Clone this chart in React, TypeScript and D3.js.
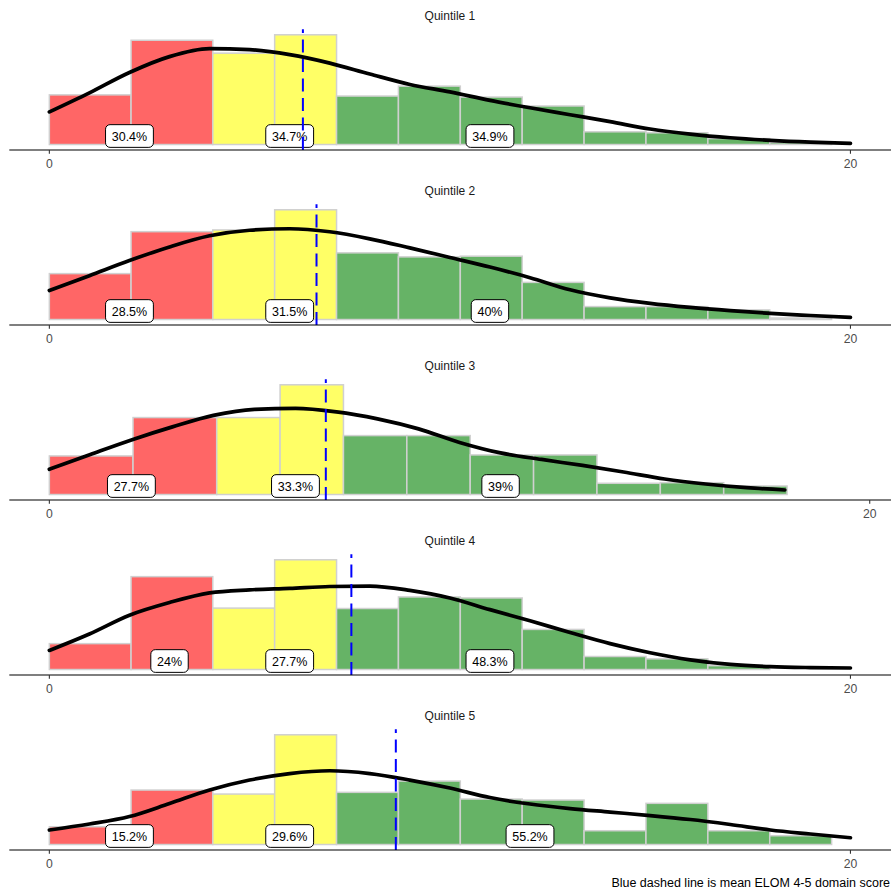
import React from 'react';
import * as d3 from 'd3';

// ---------------- DATA ----------------
const quintiles = ['Quintile 1', 'Quintile 2', 'Quintile 3', 'Quintile 4', 'Quintile 5'];

// histogram bin edges (ELOM 4-5 domain score)
const binEdges = [0, 2.04, 4.08, 5.625, 7.17, 8.715, 10.26, 11.805, 13.35, 14.895, 16.44, 17.985, 19.53];
const binGroup = ['red', 'red', 'yellow', 'yellow', 'green', 'green', 'green', 'green', 'green', 'green', 'green', 'green'];

// bar densities per quintile
const barsQ1 = [0.05, 0.105, 0.092, 0.1105, 0.0488, 0.0588, 0.0478, 0.0388, 0.0128, 0.0118, 0.006, 0.002];
const barsQ2 = [0.0455, 0.0871, 0.0888, 0.1088, 0.0661, 0.0621, 0.0628, 0.0368, 0.0128, 0.0128, 0.0095, 0.0015];
const barsQ3 = [0.0385, 0.0768, 0.0768, 0.1095, 0.0588, 0.0588, 0.0395, 0.0395, 0.0112, 0.0118, 0.0085, 0];
const barsQ4 = [0.0255, 0.0915, 0.0605, 0.1081, 0.0601, 0.0715, 0.0705, 0.0395, 0.0128, 0.0105, 0.0038, 0];
const barsQ5 = [0.0178, 0.0545, 0.0505, 0.1098, 0.0522, 0.0635, 0.0455, 0.0445, 0.0138, 0.0412, 0.0138, 0.0088];

// density curve (x positions and densities)
const curveX = [0, 1, 2, 3, 4, 5, 6, 7, 8, 9, 10, 11, 12, 13, 14, 15, 16, 17, 18, 19, 20];
const curveXQ3 = [0, 1, 2, 3, 4, 5, 6, 7, 8, 9, 10, 11, 12, 13, 14, 15, 16, 17, 17.93];
const densQ1 = [0.0328, 0.052, 0.0725, 0.0885, 0.0965, 0.0955, 0.0905, 0.082, 0.071, 0.0605, 0.053, 0.0445, 0.037, 0.030, 0.023, 0.0156, 0.0105, 0.0068, 0.0042, 0.0024, 0.0012];
const densQ2 = [0.0288, 0.0435, 0.0585, 0.072, 0.083, 0.0885, 0.090, 0.087, 0.080, 0.071, 0.0615, 0.052, 0.0415, 0.0295, 0.0215, 0.016, 0.012, 0.0088, 0.0061, 0.004, 0.0021];
const densQ3 = [0.0252, 0.040, 0.0545, 0.0675, 0.079, 0.085, 0.086, 0.0825, 0.0755, 0.0655, 0.052, 0.0415, 0.035, 0.029, 0.0225, 0.0155, 0.0105, 0.0068, 0.0045];
const densQ4 = [0.0188, 0.035, 0.0535, 0.066, 0.0755, 0.0785, 0.080, 0.0818, 0.0822, 0.078, 0.0705, 0.059, 0.048, 0.0365, 0.0255, 0.0165, 0.0095, 0.005, 0.0028, 0.0019, 0.0015];
const densQ5 = [0.0145, 0.0205, 0.028, 0.041, 0.0545, 0.0645, 0.071, 0.0738, 0.071, 0.0645, 0.0565, 0.047, 0.0405, 0.036, 0.0325, 0.029, 0.025, 0.020, 0.0145, 0.0105, 0.0068];

// mean ELOM 4-5 domain score per quintile
const meanScores = [6.33, 6.67, 6.74, 7.54, 8.65];

// x-axis upper limit per panel
const xMaxes = [20, 20, 19.53, 20, 20];
const xTicks = [0, 20];

// percentage labels (x = score position, text)
const labelsQ1 = [{ x: 2, text: '30.4%' }, { x: 6, text: '34.7%' }, { x: 11, text: '34.9%' }];
const labelsQ2 = [{ x: 2, text: '28.5%' }, { x: 6, text: '31.5%' }, { x: 11, text: '40%' }];
const labelsQ3 = [{ x: 2, text: '27.7%' }, { x: 6, text: '33.3%' }, { x: 11, text: '39%' }];
const labelsQ4 = [{ x: 3, text: '24%' }, { x: 6, text: '27.7%' }, { x: 11, text: '48.3%' }];
const labelsQ5 = [{ x: 2, text: '15.2%' }, { x: 6, text: '29.6%' }, { x: 12, text: '55.2%' }];

const caption = 'Blue dashed line is mean ELOM 4-5 domain score';

// ---------------- STYLE / LAYOUT ----------------
const W = 891;
const H = 892;
const FONT = "'Liberation Sans', Arial, Helvetica, sans-serif";
const COLORS: Record<string, string> = { red: '#FF6666', yellow: '#FFFF66', green: '#66B366' };
const PANEL_LEFT = 9.3;
const PANEL_RIGHT = 890.5;
const PANEL_TOP0 = 29.3;
const PANEL_H = 120.7;
const PANEL_STEP = 175;

const panels = [
  { bars: barsQ1, cx: curveX, cy: densQ1, labels: labelsQ1 },
  { bars: barsQ2, cx: curveX, cy: densQ2, labels: labelsQ2 },
  { bars: barsQ3, cx: curveXQ3, cy: densQ3, labels: labelsQ3 },
  { bars: barsQ4, cx: curveX, cy: densQ4, labels: labelsQ4 },
  { bars: barsQ5, cx: curveX, cy: densQ5, labels: labelsQ5 },
];

let _ctx: CanvasRenderingContext2D | null = null;
function textWidth(t: string, size: number) {
  if (!_ctx) {
    const c = document.createElement('canvas');
    _ctx = c.getContext('2d');
  }
  if (!_ctx) return t.length * size * 0.55;
  _ctx.font = `${size}px ${FONT}`;
  return _ctx.measureText(t).width;
}

function Panel({ i }: { i: number }) {
  const p = panels[i];
  const top = PANEL_TOP0 + i * PANEL_STEP;
  const bottom = top + PANEL_H;
  const xMax = xMaxes[i];
  const x = d3.scaleLinear().domain([-0.05 * xMax, 1.05 * xMax]).range([PANEL_LEFT, PANEL_RIGHT]);
  const yMax = d3.max(p.bars) as number;
  const y = d3.scaleLinear().domain([-0.05 * yMax, 1.05 * yMax]).range([bottom, top]);

  const line = d3
    .line<number>()
    .x((_, k) => x(p.cx[k]))
    .y((d) => y(d))
    .curve(d3.curveMonotoneX);

  const labelSize = 12.5;
  return (
    <g>
      <text x={(PANEL_LEFT + PANEL_RIGHT) / 2} y={top - 9} textAnchor="middle" fontSize={12} fill="#1a1a1a" fontFamily={FONT}>
        {quintiles[i]}
      </text>
      {p.bars.map((v, k) =>
        v > 0 ? (
          <rect
            key={k}
            x={x(binEdges[k])}
            width={x(binEdges[k + 1]) - x(binEdges[k])}
            y={y(v)}
            height={y(0) - y(v)}
            fill={COLORS[binGroup[k]]}
            stroke="#d0d0d0"
            strokeWidth={1.5}
          />
        ) : null
      )}
      <path d={line(p.cy) || ''} fill="none" stroke="#000" strokeWidth={3.7} strokeLinecap="round" strokeLinejoin="round" />
      {p.labels.map((l, k) => {
        const tw = textWidth(l.text, labelSize);
        const bw = tw + 12.4;
        const bh = 22.7;
        const cx = x(l.x);
        const cy = y(0) - 8.5;
        return (
          <g key={k}>
            <rect x={cx - bw / 2} y={cy - bh / 2} width={bw} height={bh} rx={4.5} fill="#fff" stroke="#000" strokeWidth={1} />
            <text x={cx} y={cy + 4.6} textAnchor="middle" fontSize={labelSize} fill="#000" fontFamily={FONT}>
              {l.text}
            </text>
          </g>
        );
      })}
      <line
        x1={x(meanScores[i])}
        x2={x(meanScores[i])}
        y1={bottom}
        y2={top}
        stroke="#0000FF"
        strokeWidth={2}
        strokeDasharray="13 6.5"
      />
      <line x1={PANEL_LEFT} x2={W} y1={bottom} y2={bottom} stroke="#000" strokeWidth={1.1} />
      {xTicks.map((t) => (
        <g key={t}>
          <line x1={x(t)} x2={x(t)} y1={bottom} y2={bottom + 3.7} stroke="#333" strokeWidth={1.1} />
          <text x={x(t)} y={bottom + 17.8} textAnchor="middle" fontSize={12.2} fill="#4d4d4d" fontFamily={FONT}>
            {t}
          </text>
        </g>
      ))}
    </g>
  );
}

export default function App() {
  return (
    <svg width={W} height={H} style={{ position: 'absolute', left: 0, top: 0, background: '#fff' }}>
      <rect width={W} height={H} fill="#fff" />
      {panels.map((_, i) => (
        <Panel key={i} i={i} />
      ))}
      <text x={890} y={887.2} textAnchor="end" fontSize={12.5} fill="#000" fontFamily={FONT}>
        {caption}
      </text>
    </svg>
  );
}
